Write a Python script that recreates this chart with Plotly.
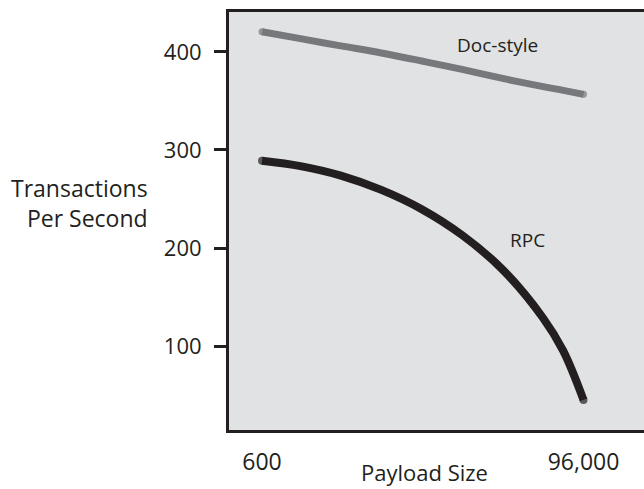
import plotly.graph_objects as go

# ---- data ----
payload_size = [600, 12000, 24000, 36000, 48000, 60000, 72000, 84000, 90000, 96000]
doc_style_tps = [420.7, 413.6, 406.2, 399.0, 390.8, 382.2, 373.0, 364.6, 360.8, 356.8]
rpc_tps = [289.1, 283.6, 273.9, 259.3, 239.6, 213.1, 178.0, 128.6, 95.0, 45.0]

x_tick_vals = [600, 96000]
x_tick_text = ["600", "96,000"]
y_tick_vals = [100, 200, 300, 400]
y_tick_text = ["100", "200", "300", "400"]

FONT = "Open Sans"
DARK = "#231f20"
DOC_COLOR = "#77787b"
BG = "#e1e2e4"

def end_caps(n, size):
    return [size] + [0] * (n - 2) + [size]

fig = go.Figure()
fig.add_trace(go.Scatter(
    x=payload_size, y=doc_style_tps, mode="lines+markers",
    line=dict(color=DOC_COLOR, width=7, shape="spline", smoothing=1.0),
    marker=dict(color=DOC_COLOR, size=end_caps(len(payload_size), 7), line=dict(width=0)),
    hoverinfo="skip", showlegend=False, cliponaxis=False,
))
fig.add_trace(go.Scatter(
    x=payload_size, y=rpc_tps, mode="lines+markers",
    line=dict(color=DARK, width=8, shape="spline", smoothing=1.0),
    marker=dict(color=DARK, size=end_caps(len(payload_size), 8), line=dict(width=0)),
    hoverinfo="skip", showlegend=False, cliponaxis=False,
))

yrange = [14.3, 440.8]
fig.update_layout(
    width=644, height=489,
    margin=dict(l=229, r=0, t=12, b=59),
    paper_bgcolor="white", plot_bgcolor=BG,
    font=dict(family=FONT, size=22, color=DARK),
    xaxis=dict(
        range=[-9192, 113953], showgrid=False, zeroline=False,
        showline=True, linecolor=DARK, linewidth=3, mirror=True,
        tickmode="array", tickvals=x_tick_vals, ticktext=x_tick_text,
        ticks="", ticklabelstandoff=9,
        tickfont=dict(family=FONT, size=23, color=DARK),
    ),
    yaxis=dict(
        range=yrange, showgrid=False, zeroline=False,
        showline=True, linecolor=DARK, linewidth=3, mirror=False,
        tickmode="array", tickvals=y_tick_vals, ticktext=y_tick_text,
        ticks="outside", ticklen=12, tickwidth=3, tickcolor=DARK,
        ticklabelstandoff=8,
        tickfont=dict(family=FONT, size=22, color=DARK),
    ),
    yaxis2=dict(
        range=yrange, overlaying="y", anchor="x", side="left",
        showgrid=False, zeroline=False, showline=False,
        tickmode="array", tickvals=y_tick_vals,
        ticks="inside", ticklen=12, tickwidth=3, tickcolor=DARK,
        showticklabels=False,
    ),
    annotations=[
        dict(text="Doc-style", xref="paper", yref="paper", x=0.648, y=0.921,
             xanchor="center", yanchor="middle",
             showarrow=False, font=dict(family=FONT, size=19, color=DARK)),
        dict(text="RPC", xref="paper", yref="paper", x=0.720, y=0.4545,
             xanchor="center", yanchor="middle",
             showarrow=False, font=dict(family=FONT, size=19, color=DARK)),
        dict(text="Payload Size", xref="paper", yref="paper", x=0.471, y=-0.1005,
             xanchor="center", yanchor="middle",
             showarrow=False, font=dict(family=FONT, size=22, color=DARK)),
        dict(text="Transactions<br>Per Second", xref="paper", yref="paper",
             x=-0.190, y=0.542, xanchor="right", yanchor="middle", align="right",
             showarrow=False, font=dict(family=FONT, size=23, color=DARK)),
    ],
)

fig.write_html(
    "out.html",
    config={"displayModeBar": False},
    post_script="document.body.style.margin='0';document.body.style.overflow='hidden';",
)
